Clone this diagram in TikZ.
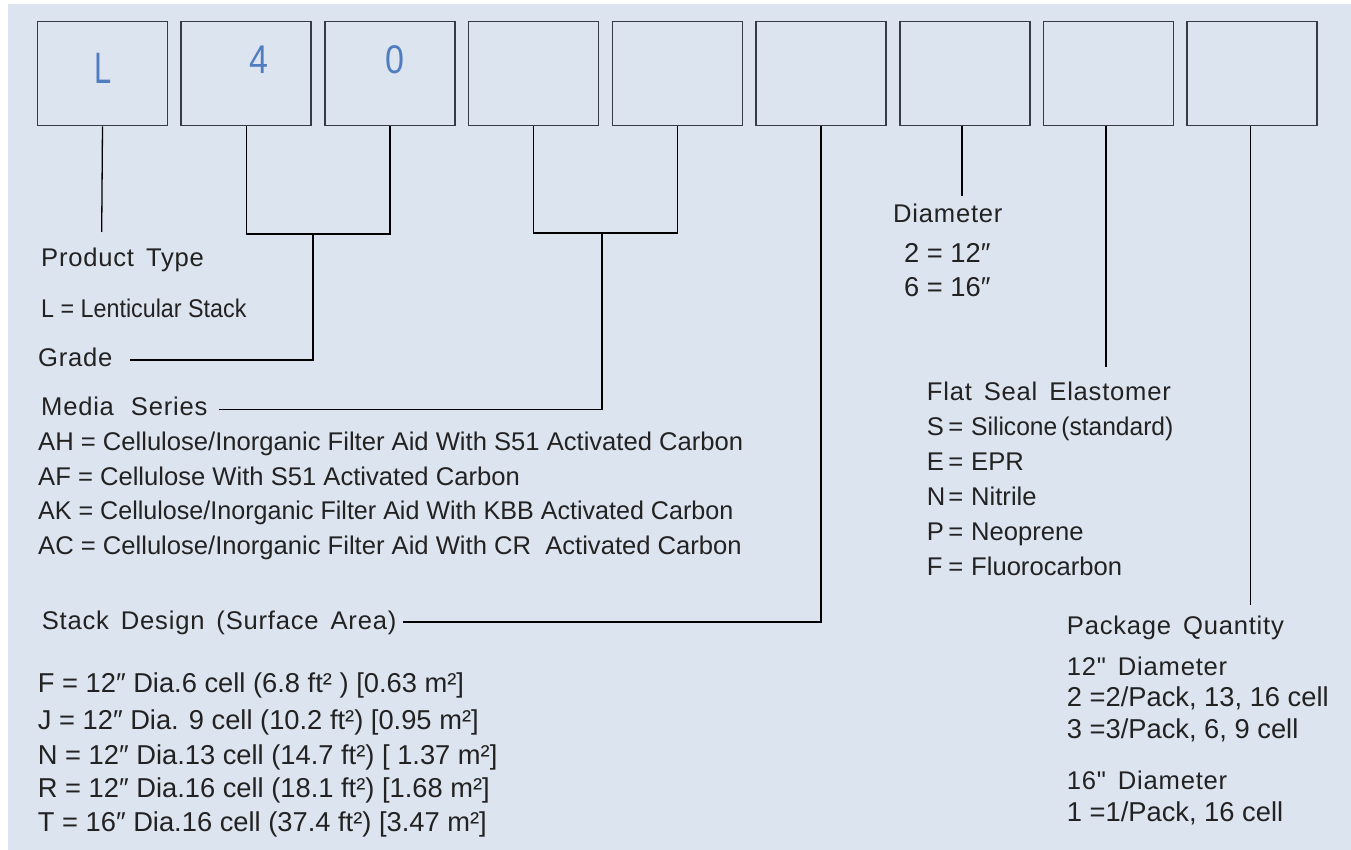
\documentclass[tikz,border=0pt]{standalone}
\usepackage{fontspec}
\setmainfont{Liberation Sans}
\newfontfamily\hd{Liberation Sans}[LetterSpace=3.0]
\usetikzlibrary{calc}
\definecolor{bgc}{RGB}{220,228,239}
\definecolor{txt}{RGB}{34,34,34}
\definecolor{blu}{RGB}{80,125,192}
\definecolor{boxc}{RGB}{55,60,66}
\newcommand{\wgap}{\hspace{12pt}}
\begin{document}
\begin{tikzpicture}[x=1pt,y=-1pt,
  codebox/.style={draw=boxc,line width=1.6pt,minimum width=130pt,minimum height=104pt,inner sep=0pt,anchor=north west},
  lbl/.style={anchor=base west,inner sep=0pt,text=txt,font=\fontsize{25.6}{30}\selectfont},
  lbw/.style={lbl,font=\fontsize{27.3}{32}\selectfont},
  hdl/.style={anchor=base west,inner sep=0pt,text=txt,font=\hd\fontsize{25.6}{30}\selectfont},
  conn/.style={draw=black,line width=1.3pt},
  code/.style={text=blu,font=\fontsize{44}{48}\selectfont,anchor=base,inner sep=0pt},
  codd/.style={code,font=\fontsize{40}{44}\selectfont}]
\useasboundingbox (0,0) rectangle (1351,850);
\fill[bgc] (8,4) rectangle (1351,850);
% code boxes
\foreach \i in {1,...,9}{
  \node[codebox] (b\i) at ({36.7+143.7*(\i-1)},20.7) {};
}
\node[code] (cL) at (103,84) {\scalebox{0.7}[1]{L}};
\node[codd] (c4) at (259,74) {\scalebox{0.85}[1]{4}};
\node[codd] (c0) at (395,74) {\scalebox{0.85}[1]{0}};
% free ends
\coordinate (e1) at (101.7,232);
\coordinate (k23) at (313,234);
\coordinate (gE) at (129.5,360);
\coordinate (k45) at (602,233);
\coordinate (mE) at (219,409.3);
\coordinate (sE) at (403,622);
\coordinate (e7) at (962,196);
\coordinate (e8) at (1106,367);
\coordinate (e9) at (1250.5,605);
% connectors
\draw[conn] (b1.south) -- (e1);
\draw[conn] (b2.south) |- (k23) -| (b3.south);
\draw[conn] (k23) |- (gE);
\draw[conn] (b4.south) |- (k45) -| (b5.south);
\draw[conn] (k45) |- (mE);
\draw[conn] (b6.south) |- (sE);
\draw[conn] (b7.south -| e7) -- (e7);
\draw[conn] (b8.south -| e8) -- (e8);
\draw[conn] (b9.south -| e9) -- (e9);
% left texts
\node[hdl] (pt) at (41,266.7) {Product\wgap Type};
\node[lbl] (lls) at (41,317) {\scalebox{0.91}[1]{L = Lenticular Stack}};
\node[hdl] (grade) at (38,366.7) {Grade};
\node[hdl] (ms) at (41,415.7) {Media\hspace{17pt}Series};
\node[lbl] (ah) at (38,450.7) {AH = Cellulose/Inorganic Filter Aid With S51 Activated Carbon};
\node[lbl] (af) at (38,485) {AF = Cellulose With S51 Activated Carbon};
\node[lbl] (ak) at (38,519.5) {\scalebox{0.98}[1]{AK = Cellulose/Inorganic Filter Aid With KBB Activated Carbon}};
\node[lbl] (ac) at (38,554.5) {AC = Cellulose/Inorganic Filter Aid With CR\ \ Activated Carbon};
\node[hdl] (sd) at (41.7,629.3) {Stack\wgap Design\wgap (Surface\wgap Area)};
\node[lbw] (sf) at (37.7,692.7) {F = 12″ Dia.6 cell (6.8 ft² ) [0.63 m²]};
\node[lbw] (sj) at (37.7,729.3) {J = 12″ Dia. 9 cell (10.2 ft²) [0.95 m²]};
\node[lbw] (sn) at (37.7,764.3) {N = 12″ Dia.13 cell (14.7 ft²) [ 1.37 m²]};
\node[lbw] (sr) at (37.7,797.7) {R = 12″ Dia.16 cell (18.1 ft²) [1.68 m²]};
\node[lbw] (st) at (37.7,831.7) {T = 16″ Dia.16 cell (37.4 ft²) [3.47 m²]};
% right texts
\node[hdl] (dia) at (893,223) {Diameter};
\node[lbw] (d2) at (904,262) {2 = 12″};
\node[lbw] (d6) at (904,296) {6 = 16″};
\node[hdl] (fse) at (926.7,400.7) {Flat\wgap Seal\wgap Elastomer};
\node[lbl] (fs) at (926.7,435) {\makebox[21.6pt][l]{S}\makebox[22.7pt][l]{=}\scalebox{0.96}[1]{Silicone\,(standard)}};
\node[lbl] (fe) at (926.7,470.7) {\makebox[21.6pt][l]{E}\makebox[22.7pt][l]{=}EPR};
\node[lbl] (fn) at (926.7,505) {\makebox[21.6pt][l]{N}\makebox[22.7pt][l]{=}Nitrile};
\node[lbl] (fp) at (926.7,540) {\makebox[21.6pt][l]{P}\makebox[22.7pt][l]{=}Neoprene};
\node[lbl] (ff) at (926.7,575) {\makebox[21.6pt][l]{F}\makebox[22.7pt][l]{=}Fluorocarbon};
\node[hdl] (pq) at (1066.7,634.3) {Package\wgap Quantity};
\node[hdl] (p12) at (1066.7,675) {12"\wgap Diameter};
\node[lbw] (p2) at (1066.7,706.7) {2 =2/Pack, 13, 16 cell};
\node[lbw] (p3) at (1066.7,738.3) {3 =3/Pack, 6, 9 cell};
\node[hdl] (p16) at (1066.7,789.3) {16"\wgap Diameter};
\node[lbw] (p1) at (1066.7,821.7) {1 =1/Pack, 16 cell};
\end{tikzpicture}
\end{document}
